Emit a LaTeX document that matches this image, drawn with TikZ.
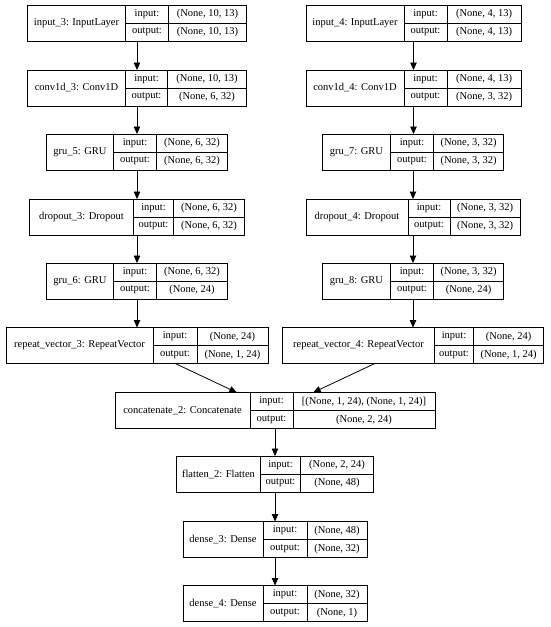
\documentclass[tikz,border=0pt]{standalone}
\usepackage{fontspec}
\setmainfont{Liberation Serif}
\usetikzlibrary{arrows.meta}
\tikzset{
  layerbox/.style={draw=black, line width=0.8pt, inner sep=0pt, outer sep=0pt, fill=white},
  cellline/.style={draw=black, line width=0.8pt},
  celltext/.style={inner sep=0pt, font=\fontsize{10.5}{12}\selectfont, text=black},
  flow/.style={draw=black, line width=0.8pt, -{Triangle[length=7.5pt,width=6.5pt]}}
}
% #1 name, #2 cx, #3 cy, #4 width, #5 label width, #6 middle width, #7 label, #8 input, #9 output
\newcommand\nnlayer[9]{%
  \node[layerbox, minimum width=#4pt, minimum height=36pt] (#1) at (#2,#3) {};
  \draw[cellline] ({#2-#4/2+#5},{#3-18}) -- ({#2-#4/2+#5},{#3+18});
  \draw[cellline] ({#2-#4/2+#5+#6},{#3-18}) -- ({#2-#4/2+#5+#6},{#3+18});
  \draw[cellline] ({#2-#4/2+#5},#3) -- ({#2+#4/2},#3);
  \node[celltext] at ({#2-#4/2+#5/2},#3) {#7};
  \node[celltext] at ({#2-#4/2+#5+#6/2},{#3-9}) {input:};
  \node[celltext] at ({#2-#4/2+#5+#6/2},{#3+9}) {output:};
  \node[celltext] at ({#2+(#5+#6)/2},{#3-9}) {#8};
  \node[celltext] at ({#2+(#5+#6)/2},{#3+9}) {#9};
}
\begin{document}
\begin{tikzpicture}[x=1pt,y=-1pt]
\useasboundingbox[fill=white] (0,0) rectangle (550,627);
% left column
\nnlayer{inp3}{137}{23}{219}{98}{43}{input\_3: InputLayer}{(None, 10, 13)}{(None, 10, 13)}
\nnlayer{conv3}{137}{88}{219}{98}{42}{conv1d\_3: Conv1D}{(None, 10, 13)}{(None, 6, 32)}
\nnlayer{gru5}{137}{152}{181}{67}{43}{gru\_5: GRU}{(None, 6, 32)}{(None, 6, 32)}
\nnlayer{drop3}{137}{217}{215}{104}{40}{dropout\_3: Dropout}{(None, 6, 32)}{(None, 6, 32)}
\nnlayer{gru6}{137}{281}{181}{67}{43}{gru\_6: GRU}{(None, 6, 32)}{(None, 24)}
\nnlayer{rv3}{137}{345.5}{262}{147}{44}{repeat\_vector\_3: RepeatVector}{(None, 24)}{(None, 1, 24)}
% right column
\nnlayer{inp4}{413.5}{23}{215}{98}{43}{input\_4: InputLayer}{(None, 4, 13)}{(None, 4, 13)}
\nnlayer{conv4}{413.5}{88}{215}{98}{43}{conv1d\_4: Conv1D}{(None, 4, 13)}{(None, 3, 32)}
\nnlayer{gru7}{413}{152}{181}{68}{43}{gru\_7: GRU}{(None, 3, 32)}{(None, 3, 32)}
\nnlayer{drop4}{413}{217}{214}{102}{42}{dropout\_4: Dropout}{(None, 3, 32)}{(None, 3, 32)}
\nnlayer{gru8}{413}{281}{181}{68}{43}{gru\_8: GRU}{(None, 3, 32)}{(None, 24)}
\nnlayer{rv4}{413}{345.5}{261}{152}{39}{repeat\_vector\_4: RepeatVector}{(None, 24)}{(None, 1, 24)}
% merged column
\nnlayer{concat}{275}{410.5}{320}{135}{43}{concatenate\_2: Concatenate}{[(None, 1, 24), (None, 1, 24)]}{(None, 2, 24)}
\nnlayer{flat}{275}{474}{197}{84}{40}{flatten\_2: Flatten}{(None, 2, 24)}{(None, 48)}
\nnlayer{dense3}{275}{539.5}{184}{80}{44}{dense\_3: Dense}{(None, 48)}{(None, 32)}
\nnlayer{dense4}{275}{603.5}{184}{80}{44}{dense\_4: Dense}{(None, 32)}{(None, 1)}
% connectors
\draw[flow] (inp3) -- (conv3);
\draw[flow] (conv3) -- (gru5);
\draw[flow] (gru5) -- (drop3);
\draw[flow] (drop3) -- (gru6);
\draw[flow] (gru6) -- (rv3);
\draw[flow] (inp4.south) -- (conv4.north);
\draw[flow] (conv4.south) -- (gru7.north -| conv4.south);
\draw[flow] (gru7) -- (drop4);
\draw[flow] (drop4) -- (gru8);
\draw[flow] (gru8) -- (rv4);
\draw[flow] (rv3) -- (concat);
\draw[flow] (rv4) -- (concat);
\draw[flow] (concat) -- (flat);
\draw[flow] (flat) -- (dense3);
\draw[flow] (dense3) -- (dense4);
\end{tikzpicture}
\end{document}
